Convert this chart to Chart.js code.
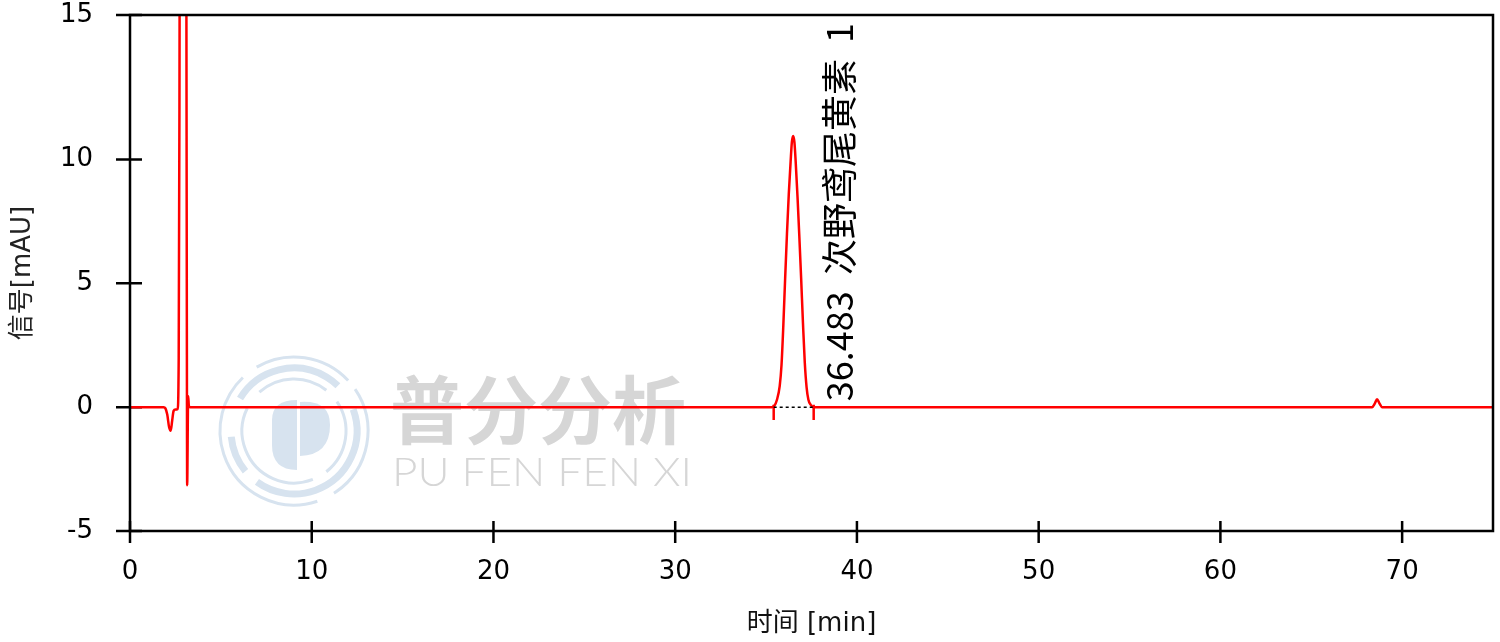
<!DOCTYPE html>
<html>
<head>
<meta charset="utf-8">
<script src="https://cdn.jsdelivr.net/npm/chart.js@4.4.1/dist/chart.umd.min.js"></script>
<style>
  html, body { margin: 0; padding: 0; background: #ffffff; }
  #wrap { width: 1500px; height: 642px; }
</style>
</head>
<body>
<div id="wrap"><canvas id="grafico"></canvas></div>
<script>
var tempos = [0, 1.85, 1.95, 2.05, 2.15, 2.24, 2.32, 2.4, 2.5, 2.62, 2.68, 2.72, 2.76, 2.85, 2.95, 3.05, 3.1, 3.125, 3.145, 3.2, 3.24, 3.3,
    35.3, 35.45, 35.6, 35.75, 35.85, 35.95, 36.05, 36.15, 36.25, 36.35, 36.42, 36.49, 36.56, 36.63, 36.73, 36.83, 36.93, 37.03, 37.13, 37.23, 37.33, 37.45, 37.6,
    68.35, 68.5, 68.62, 68.75, 68.9, 75];
var sinal = [0, 0, -0.05, -0.3, -0.8, -0.95, -0.55, -0.15, -0.1, -0.08, 2, 12, 30, 60, 70, 50, 18, 5, -3.15, 0.45, 0.05, 0,
    0, 0.05, 0.3, 0.85, 1.7, 3.3, 5.2, 7.0, 8.6, 9.9, 10.7, 10.95, 10.7, 9.9, 8.5, 6.9, 5.2, 3.4, 1.8, 0.8, 0.3, 0.1, 0,
    0, 0.15, 0.32, 0.15, 0, 0];

// integracao do pico
var picoInicio = 35.42;
var picoFim = 37.62;
var marcaTopo = 0.1;
var marcaBase = -0.52;
var picoTempo = 36.483;
var picoRotulo = '36.483  次野鸢尾黄素  1';

// eixos
var xTicks = [0, 10, 20, 30, 40, 50, 60, 70];
var xMax = 75;
var yMin = -5;
var yMax = 15.83;
var yTicks = [-5, 0, 5, 10, 15.83];
var yTickLabels = ['-5', '0', '5', '10', '15'];

var pontos = tempos.map(function (t, i) { return { x: t, y: sinal[i] }; });

var molduraPlugin = {
    id: 'moldura',
    beforeDatasetsDraw: function (chart) {
        // marca d'agua
        var ctx = chart.ctx;
        ctx.save();
        var cx = 294, cy = 431;
        ctx.strokeStyle = '#d7e3ef';
        ctx.lineWidth = 3;
        ctx.beginPath(); ctx.arc(cx, cy, 74, -2.1, -0.75); ctx.stroke();
        ctx.beginPath(); ctx.arc(cx, cy, 74, -0.6, 1.0); ctx.stroke();
        ctx.beginPath(); ctx.arc(cx, cy, 74, 1.25, 3.95); ctx.stroke();
        ctx.lineWidth = 7;
        ctx.beginPath(); ctx.arc(cx, cy, 63, -2.6, -0.8); ctx.stroke();
        ctx.beginPath(); ctx.arc(cx, cy, 63, -0.35, 2.2); ctx.stroke();
        ctx.beginPath(); ctx.arc(cx, cy, 63, 2.45, 3.05); ctx.stroke();
        ctx.lineWidth = 3;
        ctx.beginPath(); ctx.arc(cx, cy, 52, -2.3, -0.9); ctx.stroke();
        ctx.beginPath(); ctx.arc(cx, cy, 52, -0.6, 0.9); ctx.stroke();
        ctx.beginPath(); ctx.arc(cx, cy, 52, 1.2, 3.6); ctx.stroke();
        ctx.fillStyle = '#d7e3ef';
        ctx.beginPath();
        ctx.moveTo(297, 400); ctx.lineTo(297, 470);
        ctx.quadraticCurveTo(272, 470, 272, 445);
        ctx.lineTo(272, 420);
        ctx.quadraticCurveTo(272, 400, 297, 400);
        ctx.fill();
        ctx.beginPath();
        ctx.moveTo(300, 402); ctx.lineTo(300, 456);
        ctx.quadraticCurveTo(330, 455, 330, 425);
        ctx.quadraticCurveTo(330, 400, 300, 402);
        ctx.fill();
        ctx.fillStyle = '#d6d6d6';
        ctx.font = 'bold 74px "Noto Sans CJK SC"';
        ctx.textBaseline = 'middle';
        ctx.textAlign = 'left';
        ctx.fillText('普分分析', 390, 410, 312);
        ctx.font = '300 40px Lato';
        var w = ctx.measureText('PU FEN FEN XI').width;
        ctx.translate(392, 473);
        ctx.scale(300 / w, 1);
        ctx.fillText('PU FEN FEN XI', 0, 0);
        ctx.restore();

        // marcas dos eixos (por baixo do sinal)
        var a = chart.chartArea;
        var xs = chart.scales.x;
        var ys = chart.scales.y;
        ctx.save();
        ctx.strokeStyle = '#000000';
        ctx.lineWidth = 2.5;
        ctx.beginPath();
        xs.ticks.forEach(function (t) {
            var px = xs.getPixelForValue(t.value);
            ctx.moveTo(px, a.bottom - 10);
            ctx.lineTo(px, a.bottom + 12);
        });
        ys.ticks.forEach(function (t) {
            var py = ys.getPixelForValue(t.value);
            ctx.moveTo(a.left - 14, py);
            ctx.lineTo(a.left + 12, py);
        });
        ctx.stroke();
        ctx.restore();
    },
    afterDraw: function (chart) {
        var ctx = chart.ctx;
        var a = chart.chartArea;
        var xs = chart.scales.x;
        var ys = chart.scales.y;
        ctx.save();
        ctx.strokeStyle = '#000000';
        ctx.lineWidth = 2.5;
        ctx.strokeRect(a.left, a.top, a.right - a.left, a.bottom - a.top);

        // rotulo do pico
        ctx.fillStyle = '#000000';
        ctx.font = '36px "Noto Sans CJK SC"';
        ctx.textAlign = 'left';
        ctx.textBaseline = 'middle';
        ctx.translate(xs.getPixelForValue(picoTempo) + 46, ys.getPixelForValue(0) - 6);
        ctx.rotate(-Math.PI / 2);
        ctx.fillText(picoRotulo, 0, 0);
        ctx.restore();
    }
};

function criarGrafico() {
    var ctx = document.getElementById('grafico').getContext('2d');
    var myChart = new Chart(ctx, {
        type: 'line',
        data: {
            datasets: [
                {
                    data: [{ x: picoInicio, y: 0 }, { x: picoFim, y: 0 }],
                    borderColor: '#000000',
                    borderWidth: 1.5,
                    borderDash: [3, 3],
                    pointRadius: 0,
                    order: 0
                },
                {
                    data: [{ x: picoInicio, y: marcaTopo }, { x: picoInicio, y: marcaBase }],
                    borderColor: '#ff0000',
                    borderWidth: 2.5,
                    pointRadius: 0,
                    order: 1
                },
                {
                    data: [{ x: picoFim, y: marcaTopo }, { x: picoFim, y: marcaBase }],
                    borderColor: '#ff0000',
                    borderWidth: 2.5,
                    pointRadius: 0,
                    order: 1
                },
                {
                    label: 'sinal',
                    data: pontos,
                    borderColor: '#ff0000',
                    borderWidth: 2.5,
                    pointRadius: 0,
                    cubicInterpolationMode: 'monotone',
                    order: 2
                }
            ]
        },
        options: {
            responsive: false,
            animation: false,
            devicePixelRatio: 1,
            layout: { padding: { top: 15, right: 7, left: 0, bottom: 0 } },
            plugins: { legend: { display: false }, tooltip: { enabled: false } },
            scales: {
                x: {
                    type: 'linear',
                    min: 0,
                    max: xMax,
                    afterBuildTicks: function (scale) {
                        scale.ticks = xTicks.map(function (v) { return { value: v }; });
                    },
                    afterFit: function (scale) {
                        scale.height = 111;
                        scale.paddingLeft = 0;
                        scale.paddingRight = 0;
                    },
                    grid: { display: false, drawTicks: false },
                    border: { display: false },
                    ticks: {
                        color: '#000000',
                        padding: 26,
                        maxRotation: 0,
                        font: { family: 'DejaVu Sans', size: 26 }
                    },
                    title: {
                        display: true,
                        text: '时间 [min]',
                        color: '#111111',
                        padding: { top: 0, bottom: 2 },
                        font: { family: '"DejaVu Sans", "Noto Sans CJK SC"', size: 26 }
                    }
                },
                y: {
                    min: yMin,
                    max: yMax,
                    afterBuildTicks: function (scale) {
                        scale.ticks = yTicks.map(function (v) { return { value: v }; });
                    },
                    afterFit: function (scale) {
                        scale.width = 130;
                        scale.paddingTop = 0;
                        scale.paddingBottom = 0;
                    },
                    grid: { display: false, drawTicks: false },
                    border: { display: false },
                    ticks: {
                        color: '#000000',
                        padding: 37,
                        font: { family: 'DejaVu Sans', size: 26 },
                        callback: function (v, i) { return yTickLabels[i]; }
                    },
                    title: {
                        display: true,
                        text: '信号[mAU]',
                        color: '#222222',
                        padding: { top: 8, bottom: 0 },
                        font: { family: '"DejaVu Sans", "Noto Sans CJK SC"', size: 26 }
                    }
                }
            }
        },
        plugins: [molduraPlugin]
    });
    return myChart;
}

var c = document.getElementById('grafico');
c.width = 1500;
c.height = 642;
criarGrafico();
</script>
</body>
</html>
